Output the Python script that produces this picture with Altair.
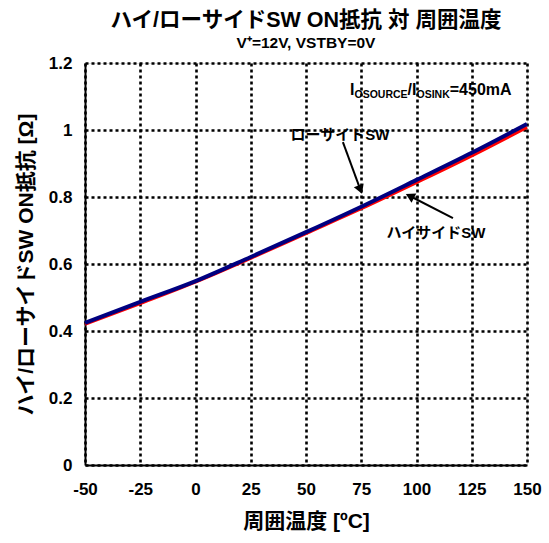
import altair as alt
import pandas as pd

# Ambient temperature [°C]
temps = [-50, -25, 0, 25, 50, 75, 100, 125, 150]
# ON resistance [Ω]
low_side = [0.424, 0.487, 0.549, 0.621, 0.695, 0.771, 0.851, 0.932, 1.018]
high_side = [0.420, 0.482, 0.546, 0.617, 0.691, 0.765, 0.843, 0.923, 1.008]

x_ticks = [-50, -25, 0, 25, 50, 75, 100, 125, 150]
y_ticks = [0, 0.2, 0.4, 0.6, 0.8, 1.0, 1.2]

FONT = "Liberation Sans, Arial, Noto Sans CJK JP"

df = pd.DataFrame({
    "temp": temps * 2,
    "r": high_side + low_side,
    "sw": ["ハイサイドSW"] * len(temps) + ["ローサイドSW"] * len(temps),
})

x_scale = alt.Scale(domain=[-50, 150], nice=False, zero=False)
y_scale = alt.Scale(domain=[0, 1.2], nice=False)

grid_style = dict(grid=True, gridColor="black", gridDash=[3, 3], gridWidth=2.6,
                  gridOpacity=1, ticks=False, domainColor="black", domainWidth=2,
                  labelFontSize=17, labelFontWeight="bold", labelColor="black",
                  labelFont=FONT, titleFont=FONT, titleFontWeight="bold",
                  titleColor="black", labelFlush=False)

x_axis = alt.Axis(
    values=x_ticks, title="周囲温度 [ºC]", labelExpr="datum.value + ''",
    labelPadding=16, titleFontSize=21, titlePadding=13, **grid_style,
)
y_axis = alt.Axis(
    values=y_ticks, format=".1~f", title="ハイ/ローサイドSW ON抵抗 [Ω]",
    labelPadding=13, titleFontSize=21, titlePadding=12, **grid_style,
)

lines = alt.Chart(df).mark_line(interpolate="monotone").encode(
    x=alt.X("temp:Q", scale=x_scale, axis=x_axis),
    y=alt.Y("r:Q", scale=y_scale, axis=y_axis),
    color=alt.Color("sw:N", scale=alt.Scale(domain=["ハイサイドSW", "ローサイドSW"],
                                           range=["#ff0000", "#000080"]), legend=None),
    strokeWidth=alt.StrokeWidth("sw:N", scale=alt.Scale(domain=["ハイサイドSW", "ローサイドSW"],
                                                       range=[3, 4]), legend=None),
    order=alt.Order("sw:N", sort="ascending"),
)

# Series labels with arrows
labels = pd.DataFrame({
    "x": [65.4, 108.8],
    "y": [0.985, 0.693],
    "t": ["ローサイドSW", "ハイサイドSW"],
})
label_text = alt.Chart(labels).mark_text(
    font=FONT, fontSize=15, fontWeight="bold", color="black"
).encode(x=alt.X("x:Q", scale=x_scale), y=alt.Y("y:Q", scale=y_scale), text="t:N")

arrows = pd.DataFrame({
    "x": [66.7, 116.5],
    "y": [0.964, 0.737],
    "x2": [74.6, 97.0],
    "y2": [0.822, 0.803],
    "angle": [159, 297],
})
arrow_lines = alt.Chart(arrows).mark_rule(color="black", strokeWidth=2).encode(
    x=alt.X("x:Q", scale=x_scale), y=alt.Y("y:Q", scale=y_scale), x2="x2:Q", y2="y2:Q"
)
arrow_heads = alt.Chart(arrows).mark_point(
    shape="triangle-up", filled=True, color="black", opacity=1, size=110
).encode(
    x=alt.X("x2:Q", scale=x_scale), y=alt.Y("y2:Q", scale=y_scale),
    angle=alt.Angle("angle:Q", scale=None),
)

# Current condition: I_OSOURCE / I_OSINK = 450mA
cond_x, cond_y = 69.9, 1.119
cond_parts = [
    ("I", 16, 0, 0),
    ("OSOURCE", 10.5, 4.5, 5),
    ("/I", 16, 57.6, 0),
    ("OSINK", 10.5, 66.5, 5),
    ("=450mA", 16, 99.8, 0),
]
cond_layers = []
for txt, size, dx, dy in cond_parts:
    cond_layers.append(
        alt.Chart(pd.DataFrame({"x": [cond_x], "y": [cond_y], "t": [txt]})).mark_text(
            font=FONT, fontSize=size, fontWeight="bold", color="black",
            align="left", baseline="middle", dx=dx, dy=dy,
        ).encode(x=alt.X("x:Q", scale=x_scale), y=alt.Y("y:Q", scale=y_scale), text="t:N")
    )

chart = alt.layer(lines, arrow_lines, arrow_heads, label_text, *cond_layers).properties(
    width=442,
    height=402,
    title=alt.TitleParams(
        text="ハイ/ローサイドSW ON抵抗 対 周囲温度",
        subtitle="V⁺=12V, VSTBY=0V",
        font=FONT, fontSize=21.5, fontWeight="bold", color="black",
        subtitleFont=FONT, subtitleFontSize=15.5, subtitleFontWeight="bold",
        subtitleColor="black", subtitlePadding=4, anchor="middle", offset=3,
    ),
    padding={"left": 85, "top": 63, "right": 22, "bottom": 78},
    autosize=alt.AutoSizeParams(type="none"),
).configure_view(stroke=None).configure(background="white")

chart.save("out.html", embed_options={"renderer": "svg", "actions": False})
